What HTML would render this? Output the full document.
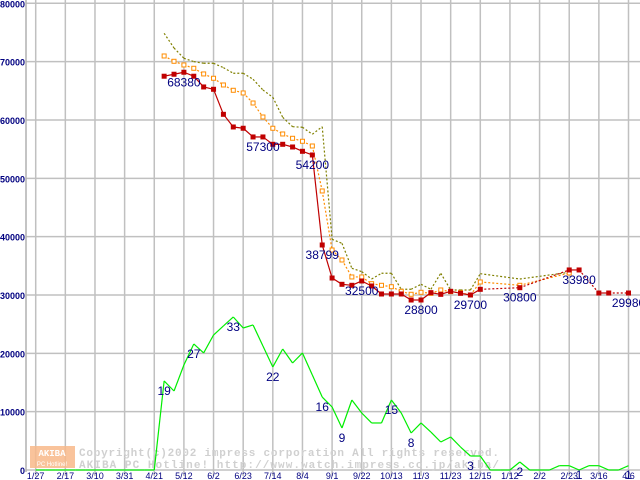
<!DOCTYPE html>
<html><head><meta charset="utf-8"><style>
html,body{margin:0;padding:0;background:#fff;}
svg{display:block;}
</style></head><body>
<svg id="chart" width="640" height="480" viewBox="0 0 640 480" xmlns="http://www.w3.org/2000/svg" font-family="Liberation Sans, sans-serif">
<g id="grid"></g>
<g id="axes"></g>
<g id="watermark">
  <rect x="30" y="446" width="45" height="22" fill="#f8b88a" opacity="0.85"/>
  <text x="52" y="456" font-size="9" font-weight="bold" fill="#fff" text-anchor="middle" font-family="Liberation Mono, monospace">AKIBA</text>
  <text x="52" y="466" font-size="6" fill="#fff" text-anchor="middle">PC Hotline!</text>
  <text x="79" y="456" font-size="11" font-weight="bold" fill="#d0d0d0" font-family="Liberation Mono, monospace" textLength="420">Copyright(c)2002 impress corporation All rights reserved.</text>
  <text x="79" y="468" font-size="11" font-weight="bold" fill="#d0d0d0" font-family="Liberation Mono, monospace" textLength="420">AKIBA PC Hotline!  http://www.watch.impress.co.jp/akiba/</text>
</g>
<g id="series"></g>
<g id="labels"></g>
</svg>
<script>
const yTicks = [0,10000,20000,30000,40000,50000,60000,70000,80000];
const xTickLabels = ["1/27","2/17","3/10","3/31","4/21","5/12","6/2","6/23","7/14","8/4","9/1","9/22","10/13","11/3","11/23","12/15","1/12","2/2","2/23","3/16","4/6"];
const redWeeks = [13,14,15,16,17,18,19,20,21,22,23,24,25,26,27,28,29,30,31,32,33,34,35,36,37,38,39,40,41,42,43,44,45,49,54,55,57,58,60];
const redValues = [67500,67840,68180,67500,65660,65260,60970,58800,58580,57090,57090,55830,55830,55370,54630,54000,38570,32910,31830,31660,32400,31540,30170,30170,30170,29140,29140,30400,30110,30630,30290,30000,30970,31250,34290,34290,30340,30340,30340];
const orangeWeeks = [13,14,15,16,17,18,19,20,21,22,23,24,25,26,27,28,29,30,31,32,33,34,35,36,37,38,39,40,41,42,43,44,45,49,54];
const orangeValues = [70970,70060,69430,68860,67890,67150,66000,65090,64630,62910,60510,58580,57600,56860,56350,55540,47830,37710,36000,33090,33090,31940,31660,31420,30630,30120,30460,30290,30860,30570,30390,30000,32230,31660,33770];
const oliveWeeks = [13,14,15,16,17,18,19,20,21,22,23,24,25,26,27,28,29,30,31,32,33,34,35,36,37,38,39,40,41,42,43,44,45,49,54];
const oliveValues = [74860,72340,70580,70000,69720,69720,68970,68010,68010,66980,65140,63890,60460,58850,58750,57550,58850,39550,38860,34580,34000,32740,33720,33720,30980,30980,31830,30980,33720,30860,30860,30860,33650,32740,33890];
const greenWeeks = [0,1,2,3,4,5,6,7,8,9,10,11,12,13,14,15,16,17,18,19,20,21,22,23,24,25,26,27,28,29,30,31,32,33,34,35,36,37,38,39,40,41,42,43,44,45,46,47,48,49,50,51,52,53,54,55,56,57,58,59,60];
const greenValues = [0,0,0,0,0,0,0,0,0,0,0,0,0,15260,13540,18000,21600,20060,23140,24690,26230,24340,24860,21260,17660,20740,18340,20060,16290,12510,10800,7200,12000,9770,8060,8060,12000,9770,6340,8060,6510,4800,5660,3940,2400,2400,0,0,0,1370,0,0,0,740,740,0,740,740,0,0,740];
const redLabelWeeks = [15,23,28,29,33,39,44,49,55,60];
const redLabelValues = [68380,57300,54200,38799,32500,28800,29700,30800,33980,29980];
const greenLabelWeeks = [13,16,20,24,29,31,36,38,44,49,55,60];
const greenLabelTexts = ["19","27","33","22","16","9","15","8","3","2","1","1"];

const NS = "http://www.w3.org/2000/svg";
const xw = w => 35.7 + w * 9.88;
const yv = v => 470 - v * 466.7 / 80000;
function mk(tag, attrs, parent){ const e=document.createElementNS(NS,tag); for(const k in attrs) e.setAttribute(k,attrs[k]); parent.appendChild(e); return e; }
const grid=document.getElementById('grid'), axes=document.getElementById('axes'), series=document.getElementById('series'), labels=document.getElementById('labels');

yTicks.forEach(t=>{
  const l=mk('line',{x1:26,x2:640,y1:yv(t),y2:yv(t),stroke:'#c0c0c0','stroke-width':1.5},grid);
  
  
  const tx=mk('text',{x:25,y:yv(t)+4,'text-anchor':'end','font-size':9,'font-weight':'bold',fill:'#000080'},axes);
  tx.textContent=t;
  
  
});
xTickLabels.forEach((s,k)=>{
  const x=xw(k*3);
  const l=mk('line',{x1:x,x2:x,y1:0,y2:476,stroke:'#c0c0c0','stroke-width':1.5},grid);
  
  
  const tx=mk('text',{x:x,y:479,'text-anchor':'middle','font-size':9,fill:'#000080'},axes);
  tx.textContent=s;
  
  
});
const ax=mk('line',{x1:26,x2:26,y1:0,y2:472,stroke:'#b0b0b0','stroke-width':1.5},axes);



function drawSeries(weeks, vals, color, name, dashedAll, markers, hollow){
  for(let i=1;i<weeks.length;i++){
    const gap = weeks[i]-weeks[i-1]>1;
    const a={x1:xw(weeks[i-1]),y1:yv(vals[i-1]),x2:xw(weeks[i]),y2:yv(vals[i]),stroke:color,'stroke-width':1.2};
    if(dashedAll||gap) a['stroke-dasharray']='2,2';
    const l=mk('line',a,series);
    
    
  }
  if(markers) weeks.forEach((w,i)=>{
    const r=mk('rect',{x:xw(w)-2,y:yv(vals[i])-2,width:4,height:4,fill:hollow?'#fff':color,stroke:color,'stroke-width':1},series);
    
    
  });
}
drawSeries(greenWeeks,greenValues,'#00ee00','shop-count',false,false,false);
drawSeries(oliveWeeks,oliveValues,'#808000','max-price',true,false,false);
drawSeries(orangeWeeks,orangeValues,'#ff8c00','avg-price',true,true,true);
drawSeries(redWeeks,redValues,'#c00000','min-price',false,true,false);

redLabelWeeks.forEach((w,i)=>{
  const idx=redWeeks.indexOf(w);
  const v=idx>=0?redValues[idx]:redLabelValues[i];
  const t=mk('text',{x:xw(w),y:yv(v)+14,'text-anchor':'middle','font-size':12,fill:'#000080'},labels);
  t.textContent=redLabelValues[i];
  
  
});
greenLabelWeeks.forEach((w,i)=>{
  const idx=greenWeeks.indexOf(w);
  const v=greenValues[idx];
  const t=mk('text',{x:xw(w),y:Math.min(yv(v)+14,479),'text-anchor':'middle','font-size':12,fill:'#000080'},labels);
  t.textContent=greenLabelTexts[i];
  
  
});
</script>
</body></html>
